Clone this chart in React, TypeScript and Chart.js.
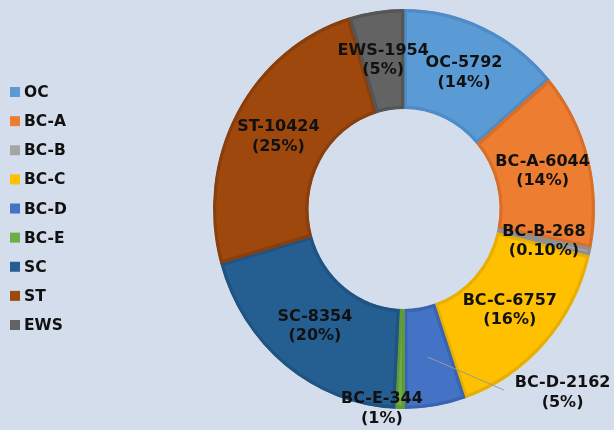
import React, { useEffect, useRef } from "react";
import { Chart, registerables } from "chart.js";

Chart.register(...registerables);

const categories = ["OC", "BC-A", "BC-B", "BC-C", "BC-D", "BC-E", "SC", "ST", "EWS"];
const seats = [5792, 6044, 268, 6757, 2162, 344, 8354, 10424, 1954];
const shareLabels = ["14%", "14%", "0.10%", "16%", "5%", "1%", "20%", "25%", "5%"];

const fillColors = ["#5b9bd5", "#ed7d31", "#a5a5a5", "#ffc000", "#4472c4", "#70ad47", "#255e91", "#9e480e", "#636363"];
const edgeColors = ["#4f8bc6", "#d96f27", "#8f8f8f", "#e8ae00", "#3a64b0", "#5f9a3a", "#1f5382", "#8a3e0b", "#555555"];

const BG = "#d4ddec";
const X_SQUASH = 0.955;
const LABEL_FONT = "bold 16px 'DejaVu Sans'";
const LEGEND_FONT = "bold 15.5px 'DejaVu Sans'";
// per-slice label displacement from the arc centroid (px)
const labelOffsets: Record<number, [number, number]> = { 4: [135, 36], 5: [-19, 50] };
const leaderFor: Record<number, boolean> = { 4: true };

const squashPlugin = {
  id: "squash",
  beforeDatasetsDraw(chart: any) {
    const a = chart.chartArea;
    const cx = (a.left + a.right) / 2;
    const ctx = chart.ctx;
    ctx.save();
    ctx.translate(cx, 0);
    ctx.scale(X_SQUASH, 1);
    ctx.translate(-cx, 0);
  },
  afterDatasetsDraw(chart: any) {
    chart.ctx.restore();
  },
};

const labelPlugin = {
  id: "sliceLabels",
  afterDraw(chart: any) {
    const ctx = chart.ctx;
    const a = chart.chartArea;
    const cx = (a.left + a.right) / 2;
    const meta = chart.getDatasetMeta(0);
    ctx.save();
    ctx.font = LABEL_FONT;
    ctx.fillStyle = "#111111";
    ctx.textAlign = "center";
    ctx.textBaseline = "middle";
    meta.data.forEach((arc: any, i: number) => {
      const p = arc.getCenterPoint();
      const px = cx + (p.x - cx) * X_SQUASH;
      const py = p.y;
      const off = labelOffsets[i] || [0, 0];
      const lx = px + off[0];
      const ly = py + off[1];
      const line1 = `${categories[i]}-${seats[i]}`;
      const line2 = `(${shareLabels[i]})`;
      if (leaderFor[i]) {
        const w1 = ctx.measureText(line1).width;
        ctx.save();
        ctx.strokeStyle = "#9a9a9a";
        ctx.lineWidth = 1;
        ctx.beginPath();
        ctx.moveTo(px, py);
        ctx.lineTo(lx - w1 / 2 - 11, ly - 3);
        ctx.stroke();
        ctx.restore();
      }
      ctx.fillText(line1, lx, ly - 9.75);
      ctx.fillText(line2, lx, ly + 9.75);
    });
    ctx.restore();
  },
};

const legendPlugin = {
  id: "sideLegend",
  afterDraw(chart: any) {
    const ctx = chart.ctx;
    ctx.save();
    ctx.font = LEGEND_FONT;
    ctx.textAlign = "left";
    ctx.textBaseline = "middle";
    const top = 92;
    const step = 29.125;
    categories.forEach((c, i) => {
      const y = top + i * step;
      ctx.fillStyle = fillColors[i];
      ctx.fillRect(10, y - 5, 10, 10);
      ctx.fillStyle = "#111111";
      ctx.fillText(c, 24, y + 1);
    });
    ctx.restore();
  },
};

export default function App() {
  const ref = useRef<HTMLCanvasElement | null>(null);
  useEffect(() => {
    if (!ref.current) return;
    const chart = new Chart(ref.current, {
      type: "doughnut",
      data: {
        labels: categories,
        datasets: [
          {
            data: seats,
            backgroundColor: fillColors,
            borderColor: edgeColors,
            borderWidth: 3,
            borderAlign: "inner",
          } as any,
        ],
      },
      options: {
        responsive: false,
        animation: false,
        cutout: "50%",
        layout: { padding: { left: 204, right: 10, top: 9, bottom: 21 } },
        plugins: {
          legend: { display: false },
          tooltip: { enabled: false },
        },
      },
      plugins: [squashPlugin, labelPlugin, legendPlugin],
    });
    return () => chart.destroy();
  }, []);
  return (
    <div style={{ position: "absolute", left: 0, top: 0, width: 614, height: 430, background: BG }}>
      <canvas ref={ref} width={614} height={430} />
    </div>
  );
}
